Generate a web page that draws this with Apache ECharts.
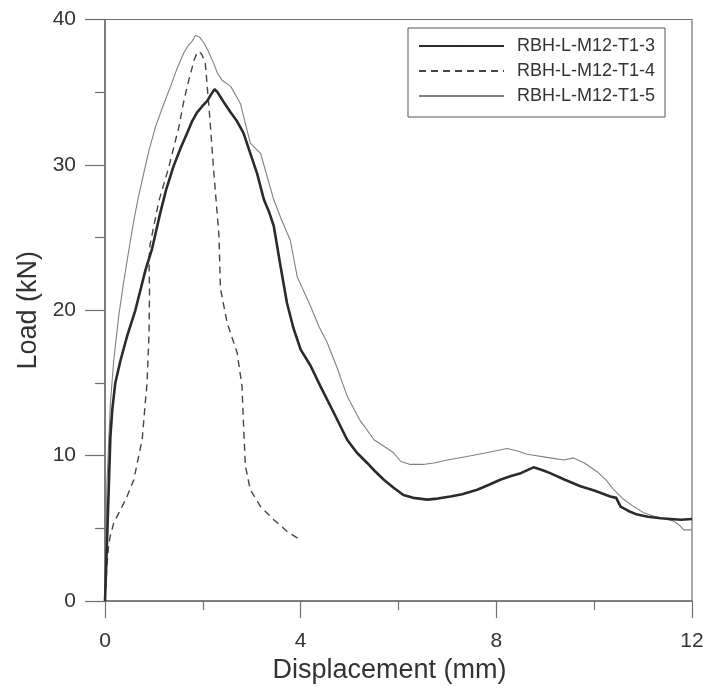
<!DOCTYPE html>
<html>
<head>
<meta charset="utf-8">
<script src="https://cdn.jsdelivr.net/npm/echarts@6/dist/echarts.min.js"></script>
<style>
html,body{margin:0;padding:0;background:#fff;}
#chart{width:708px;height:689px;}
</style>
</head>
<body>
<div id="chart"></div>
<script>
// Series names
const seriesNames = ['RBH-L-M12-T1-3', 'RBH-L-M12-T1-4', 'RBH-L-M12-T1-5'];

// RBH-L-M12-T1-3 (thick solid)
const s3X = [0, 0.03, 0.06, 0.08, 0.11, 0.15, 0.21, 0.32, 0.45, 0.62, 0.83, 0.96, 1.13, 1.25, 1.40, 1.55, 1.68, 1.78, 1.88, 1.98, 2.09, 2.16, 2.24, 2.30, 2.45, 2.57, 2.70, 2.83, 2.95, 3.11, 3.25, 3.35, 3.45, 3.59, 3.72, 3.85, 4.00, 4.20, 4.40, 4.70, 4.95, 5.15, 5.36, 5.50, 5.70, 5.90, 6.10, 6.30, 6.59, 6.80, 7.06, 7.30, 7.61, 7.85, 8.08, 8.30, 8.50, 8.76, 8.95, 9.10, 9.40, 9.72, 10.00, 10.33, 10.45, 10.54, 10.70, 10.88, 11.10, 11.36, 11.77, 12.00];
const s3Y = [0, 3, 6, 8.1, 11.3, 13.2, 15.0, 16.6, 18.2, 20.0, 22.8, 24.2, 26.7, 28.3, 29.9, 31.2, 32.2, 33.0, 33.6, 34.0, 34.4, 34.8, 35.2, 35.0, 34.2, 33.6, 33.0, 32.2, 31.0, 29.4, 27.6, 26.8, 25.8, 23.0, 20.5, 18.8, 17.3, 16.2, 14.8, 12.8, 11.1, 10.2, 9.5, 9.0, 8.35, 7.8, 7.3, 7.1, 6.98, 7.05, 7.2, 7.35, 7.66, 8.0, 8.35, 8.6, 8.8, 9.2, 9.0, 8.8, 8.35, 7.9, 7.6, 7.2, 7.1, 6.5, 6.2, 5.95, 5.8, 5.7, 5.6, 5.65];

// RBH-L-M12-T1-4 (dashed)
const s4X = [0, 0.04, 0.08, 0.11, 0.18, 0.32, 0.45, 0.59, 0.69, 0.76, 0.83, 0.86, 0.90, 0.91, 0.90, 0.92, 1.10, 1.30, 1.51, 1.60, 1.68, 1.75, 1.82, 1.87, 1.92, 1.98, 2.05, 2.12, 2.17, 2.22, 2.33, 2.36, 2.50, 2.70, 2.80, 2.84, 2.87, 2.97, 3.18, 3.45, 3.72, 4.00];
const s4Y = [0, 2.5, 4.0, 4.5, 5.4, 6.3, 7.2, 8.35, 10.0, 11.1, 13.9, 15.0, 18.4, 21.4, 23.5, 24.5, 27.5, 29.8, 32.6, 34.2, 35.4, 36.3, 37.2, 37.6, 37.8, 37.6, 37.0, 34.2, 32.0, 29.7, 25.1, 21.5, 19.1, 17.1, 14.8, 11.5, 9.3, 7.66, 6.5, 5.6, 4.8, 4.2];

// RBH-L-M12-T1-5 (thin solid)
const s5X = [0, 0.02, 0.04, 0.08, 0.11, 0.18, 0.28, 0.38, 0.49, 0.59, 0.69, 0.79, 0.90, 1.03, 1.18, 1.34, 1.47, 1.61, 1.70, 1.78, 1.85, 1.93, 2.02, 2.10, 2.22, 2.30, 2.40, 2.57, 2.77, 2.97, 3.18, 3.45, 3.60, 3.79, 3.93, 4.20, 4.37, 4.54, 4.75, 4.95, 5.20, 5.50, 5.77, 5.90, 6.05, 6.24, 6.50, 6.72, 7.00, 7.40, 7.80, 8.22, 8.45, 8.63, 9.10, 9.38, 9.58, 9.80, 10.06, 10.25, 10.40, 10.60, 10.81, 11.00, 11.22, 11.45, 11.63, 11.75, 11.83, 12.00];
const s5Y = [0, 4, 8.1, 11.3, 13.6, 16.6, 19.6, 21.9, 24.2, 26.2, 27.9, 29.4, 31.0, 32.6, 34.0, 35.4, 36.6, 37.7, 38.2, 38.5, 38.9, 38.8, 38.4, 37.9, 37.0, 36.3, 35.8, 35.4, 34.2, 31.5, 30.8, 27.6, 26.3, 24.8, 22.3, 20.3, 18.9, 17.8, 16.0, 14.1, 12.5, 11.1, 10.5, 10.2, 9.6, 9.4, 9.4, 9.5, 9.7, 9.95, 10.2, 10.5, 10.3, 10.1, 9.85, 9.7, 9.85, 9.5, 8.9, 8.3, 7.66, 7.0, 6.5, 6.1, 5.83, 5.65, 5.5, 5.2, 4.9, 4.9];

// Axis ticks
const xTicks = [0, 4, 8, 12];
const yTicks = [0, 10, 20, 30, 40];

function pairs(xs, ys) { return xs.map((x, i) => [x, ys[i]]); }

const chart = echarts.init(document.getElementById('chart'), null, {renderer: 'canvas'});
const axisColor = '#707070';
const font = 'Liberation Sans, Arial, sans-serif';

chart.setOption({
  animation: false,
  backgroundColor: '#ffffff',
  grid: {
    left: 105, right: 16, top: 19.5, bottom: 87.5,
    show: true, borderColor: axisColor, borderWidth: 1.2, backgroundColor: 'transparent'
  },
  legend: {
    orient: 'vertical',
    left: 408, top: 28,
    padding: [9, 10, 12, 10],
    itemWidth: 85, itemHeight: 2, itemGap: 7,
    borderColor: '#555', borderWidth: 1,
    backgroundColor: '#fff',
    textStyle: {fontFamily: font, fontSize: 18, color: '#333', padding: [0, 0, 0, 8]},
    data: seriesNames
  },
  xAxis: {
    type: 'value', min: xTicks[0], max: xTicks[xTicks.length - 1], interval: 4,
    name: 'Displacement (mm)', nameLocation: 'middle', nameGap: 51,
    nameTextStyle: {fontFamily: font, fontSize: 27, color: '#333', padding: [0, 18, 0, 0]},
    axisLine: {show: true, lineStyle: {color: axisColor, width: 1.5}},
    axisTick: {show: true, inside: false, length: 17, lineStyle: {color: axisColor, width: 1.2}},
    minorTick: {show: true, splitNumber: 2, length: 9, lineStyle: {color: axisColor, width: 1.2}},
    axisLabel: {fontFamily: font, fontSize: 21, color: '#333', margin: 30},
    splitLine: {show: false}
  },
  yAxis: {
    type: 'value', min: yTicks[0], max: yTicks[yTicks.length - 1], interval: 10,
    name: 'Load (kN)', nameLocation: 'middle', nameGap: 53,
    nameTextStyle: {fontFamily: font, fontSize: 27, color: '#333'},
    axisLine: {show: true, lineStyle: {color: axisColor, width: 1.5}},
    axisTick: {show: true, inside: false, length: 20, lineStyle: {color: axisColor, width: 1.2}},
    minorTick: {show: true, splitNumber: 2, length: 10, lineStyle: {color: axisColor, width: 1.2}},
    axisLabel: {fontFamily: font, fontSize: 21, color: '#333', margin: 29},
    splitLine: {show: false}
  },
  series: [
    {
      name: seriesNames[0], type: 'line', symbol: 'none', smooth: false,
      data: pairs(s3X, s3Y),
      lineStyle: {color: '#2b2b2b', width: 2.6},
      itemStyle: {color: '#2b2b2b'},
      z: 3
    },
    {
      name: seriesNames[1], type: 'line', symbol: 'none', smooth: false,
      data: pairs(s4X, s4Y),
      lineStyle: {color: '#444', width: 1.4, type: [7, 5]},
      itemStyle: {color: '#444'},
      z: 2
    },
    {
      name: seriesNames[2], type: 'line', symbol: 'none', smooth: false,
      data: pairs(s5X, s5Y),
      lineStyle: {color: '#808080', width: 1.1},
      itemStyle: {color: '#808080'},
      z: 1
    }
  ]
});
</script>
</body>
</html>
